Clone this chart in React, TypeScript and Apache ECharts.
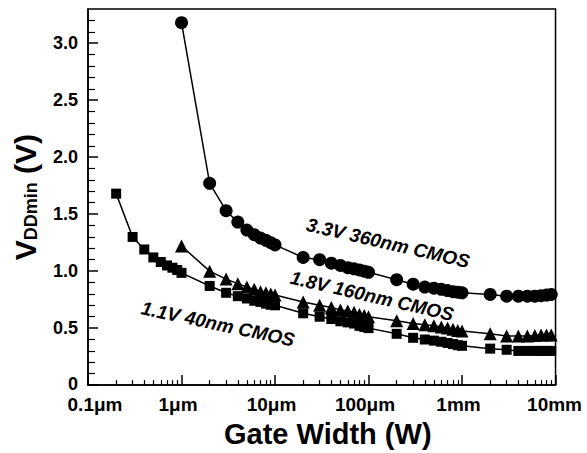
import React, { useEffect, useRef } from "react";
import * as echarts from "echarts";

// Gate width in µm
const widths33 = [1, 2, 3, 4, 5, 6, 7, 8, 9, 10, 20, 30, 40, 50, 60, 70, 80, 90, 100, 200, 300, 400, 500, 600, 700, 800, 900, 1000, 2000, 3000, 4000, 5000, 6000, 7000, 8000, 9000];
const vdd33 = [3.18, 1.77, 1.53, 1.43, 1.36, 1.32, 1.29, 1.27, 1.25, 1.23, 1.12, 1.1, 1.07, 1.05, 1.03, 1.02, 1.01, 1.0, 0.99, 0.925, 0.885, 0.86, 0.85, 0.84, 0.83, 0.82, 0.815, 0.81, 0.795, 0.78, 0.78, 0.78, 0.78, 0.785, 0.79, 0.795];

const widths18 = [1, 2, 3, 4, 5, 6, 7, 8, 9, 10, 20, 30, 40, 50, 60, 70, 80, 90, 100, 200, 300, 400, 500, 600, 700, 800, 900, 1000, 2000, 3000, 4000, 5000, 6000, 7000, 8000, 9000];
const vdd18 = [1.22, 1.0, 0.93, 0.89, 0.86, 0.84, 0.82, 0.81, 0.8, 0.79, 0.73, 0.7, 0.68, 0.66, 0.65, 0.64, 0.62, 0.61, 0.6, 0.565, 0.54, 0.53, 0.52, 0.51, 0.5, 0.49, 0.48, 0.475, 0.45, 0.43, 0.43, 0.43, 0.435, 0.44, 0.44, 0.44];

const widths11 = [0.2, 0.3, 0.4, 0.5, 0.6, 0.7, 0.8, 0.9, 1, 2, 3, 4, 5, 6, 7, 8, 9, 10, 20, 30, 40, 50, 60, 70, 80, 90, 100, 200, 300, 400, 500, 600, 700, 800, 900, 1000, 2000, 3000, 4000, 5000, 6000, 7000, 8000, 9000];
const vdd11 = [1.68, 1.3, 1.19, 1.12, 1.08, 1.05, 1.03, 1.01, 0.985, 0.87, 0.81, 0.78, 0.76, 0.74, 0.73, 0.715, 0.705, 0.7, 0.63, 0.6, 0.58, 0.56, 0.55, 0.54, 0.52, 0.51, 0.5, 0.45, 0.415, 0.4, 0.39, 0.38, 0.37, 0.36, 0.35, 0.345, 0.32, 0.31, 0.3, 0.3, 0.3, 0.3, 0.3, 0.3];

const xTickValues = [0.1, 1, 10, 100, 1000, 10000];
const xTickLabels = ["0.1μm", "1μm", "10μm", "100μm", "1mm", "10mm"];
const xMinorTicks = [0.2, 0.3, 0.4, 0.5, 0.6, 0.7, 0.8, 0.9, 2, 3, 4, 5, 6, 7, 8, 9, 20, 30, 40, 50, 60, 70, 80, 90, 200, 300, 400, 500, 600, 700, 800, 900, 2000, 3000, 4000, 5000, 6000, 7000, 8000, 9000];
const yTickValues = [0, 0.5, 1.0, 1.5, 2.0, 2.5, 3.0];
const yTickLabels = ["0", "0.5", "1.0", "1.5", "2.0", "2.5", "3.0"];
const yMinorTicks = [0.1, 0.2, 0.3, 0.4, 0.6, 0.7, 0.8, 0.9, 1.1, 1.2, 1.3, 1.4, 1.6, 1.7, 1.8, 1.9, 2.1, 2.2, 2.3, 2.4, 2.6, 2.7, 2.8, 2.9, 3.1, 3.2];

const seriesNames = ["3.3V 360nm CMOS", "1.8V 160nm CMOS", "1.1V 40nm CMOS"];

const FONT = "'Liberation Sans', Arial, Helvetica, sans-serif";

function pairs(xs: number[], ys: number[]) {
  return xs.map((x, i) => [x, ys[i]]);
}

export default function App() {
  const ref = useRef<HTMLDivElement>(null);
  useEffect(() => {
    const chart = echarts.init(ref.current!, null, { renderer: "svg" });
    const lineStyle = { color: "#000", width: 1.5 };
    const itemStyle = { color: "#000" };
    const labelFont = `italic bold 19px ${FONT}`;
    const rot = (-13 * Math.PI) / 180;
    const xLabelBase = { fontFamily: FONT, fontWeight: "bold", fontSize: 19, color: "#000", lineHeight: 19 };
    const yLabelBase = { fontFamily: FONT, fontWeight: "bold", fontSize: 18, color: "#000", lineHeight: 15 };
    chart.setOption({
      animation: false,
      backgroundColor: "#fff",
      grid: {
        left: 88,
        right: 29,
        top: 9,
        bottom: 62,
        show: true,
        borderColor: "#000",
        borderWidth: 1.5,
        backgroundColor: "transparent",
      },
      xAxis: [
        {
          type: "log",
          logBase: 10,
          min: 0.1,
          max: 10000,
          name: "Gate Width (W)",
          nameLocation: "middle",
          nameGap: 31,
          nameTextStyle: { fontFamily: FONT, fontWeight: "bold", fontSize: 29, color: "#000", padding: [0, 0, 0, 12] },
          axisLine: { show: true, lineStyle: { color: "#000", width: 1.5 } },
          axisTick: { show: true, inside: true, length: 10, customValues: xTickValues, lineStyle: { color: "#000", width: 1.5 } },
          axisLabel: {
            show: true,
            customValues: xTickValues,
            margin: 10,
            ...xLabelBase,
            formatter: (v: number) => {
              const i = Math.round(Math.log10(v)) + 1;
              const style = ["a", "b", "b", "b", "b", "c"][i];
              return `{${style}|${xTickLabels[i]}}`;
            },
            rich: {
              a: { ...xLabelBase, padding: [0, 0, 0, 14] },
              b: { ...xLabelBase, padding: [0, 7, 0, 0] },
              c: { ...xLabelBase, padding: [0, 2, 0, 0] },
            },
          },
          splitLine: { show: false },
        },
        {
          type: "log",
          logBase: 10,
          min: 0.1,
          max: 10000,
          axisLine: { show: false },
          axisTick: { show: true, inside: true, length: 5, customValues: xMinorTicks, lineStyle: { color: "#000", width: 1.2 } },
          axisLabel: { show: false },
          splitLine: { show: false },
          position: "bottom",
        },
      ],
      yAxis: [
        {
          type: "value",
          min: 0,
          max: 3.3,
          name: "{v|V}{s|DDmin}{v| (V)}",
          nameLocation: "middle",
          nameGap: 48,
          nameTextStyle: {
            color: "#000",
            rich: {
              v: { fontFamily: FONT, fontWeight: "bold", fontSize: 30, color: "#000", lineHeight: 30 },
              s: { fontFamily: FONT, fontWeight: "bold", fontSize: 18, color: "#000", lineHeight: 14, verticalAlign: "bottom" },
            },
          },
          axisLine: { show: true, lineStyle: { color: "#000", width: 1.5 } },
          axisTick: { show: true, inside: true, length: 10, customValues: yTickValues, lineStyle: { color: "#000", width: 1.5 } },
          axisLabel: {
            show: true,
            customValues: yTickValues,
            margin: 10,
            ...yLabelBase,
            formatter: (v: number) => {
              const i = yTickValues.findIndex((t) => Math.abs(t - v) < 1e-6);
              if (i < 0) return "";
              return i === 0 ? `{z|${yTickLabels[i]}}` : yTickLabels[i];
            },
            rich: {
              z: { ...yLabelBase, lineHeight: 14, padding: [0, 0, 3, 0] },
            },
          },
          splitLine: { show: false },
        },
        {
          type: "value",
          min: 0,
          max: 3.3,
          position: "left",
          axisLine: { show: false },
          axisTick: { show: true, inside: true, length: 7, customValues: yMinorTicks, lineStyle: { color: "#000", width: 1.2 } },
          axisLabel: { show: false },
          splitLine: { show: false },
        },
      ],
      series: [
        {
          name: seriesNames[0],
          type: "line",
          data: pairs(widths33, vdd33),
          symbol: "circle",
          symbolSize: 13,
          lineStyle,
          itemStyle,
          emphasis: { disabled: true },
          clip: false,
        },
        {
          name: seriesNames[1],
          type: "line",
          data: pairs(widths18, vdd18),
          symbol: "triangle",
          symbolSize: 13,
          lineStyle,
          itemStyle,
          emphasis: { disabled: true },
          clip: false,
        },
        {
          name: seriesNames[2],
          type: "line",
          data: pairs(widths11, vdd11),
          symbol: "rect",
          symbolSize: 10,
          lineStyle,
          itemStyle,
          emphasis: { disabled: true },
          clip: false,
        },
      ],
      graphic: [
        {
          type: "text",
          x: 388,
          y: 243,
          rotation: rot,
          style: { text: seriesNames[0], font: labelFont, fill: "#000", align: "center", verticalAlign: "middle" },
          z: 100,
        },
        {
          type: "text",
          x: 372,
          y: 296,
          rotation: rot,
          style: { text: seriesNames[1], font: labelFont, fill: "#000", align: "center", verticalAlign: "middle" },
          z: 100,
        },
        {
          type: "text",
          x: 218,
          y: 324,
          rotation: (-12 * Math.PI) / 180,
          style: { text: seriesNames[2], font: labelFont, fill: "#000", align: "center", verticalAlign: "middle" },
          z: 100,
        },
      ],
    });
    return () => chart.dispose();
  }, []);
  return <div ref={ref} style={{ position: "fixed", left: 0, top: 0, width: 587, height: 453, background: "#fff" }} />;
}
